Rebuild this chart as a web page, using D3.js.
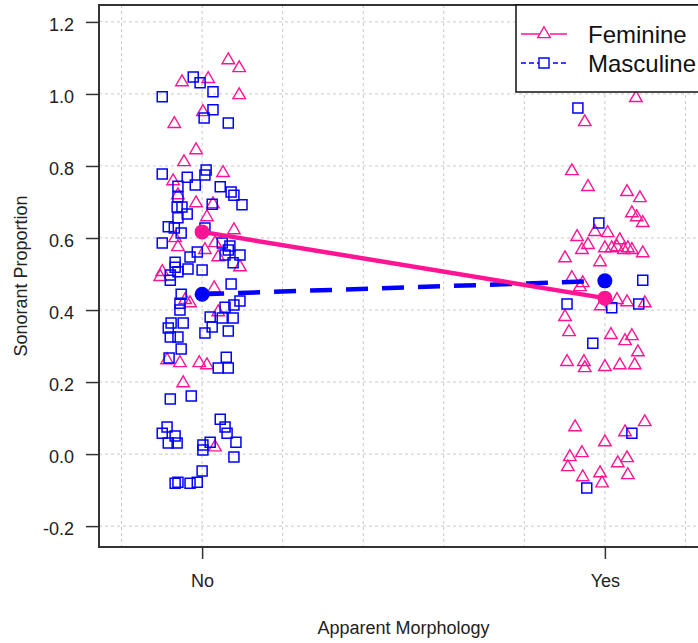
<!DOCTYPE html>
<html>
<head>
<meta charset="utf-8">
<script src="https://cdn.jsdelivr.net/npm/d3@7"></script>
<style>
  body { margin: 0; background: #fff; }
  text { font-family: "Liberation Sans", Arial, sans-serif; }
</style>
</head>
<body>
<script>
// jittered points: [x position, sonorant proportion]
var femNo = [
  [1.065, 1.094], [1.092, 1.072], [0.950, 1.033], [1.015, 1.042], [1.092, 0.997],
  [1.002, 0.950], [0.931, 0.917], [0.985, 0.844], [0.955, 0.811], [1.052, 0.781],
  [0.928, 0.758], [0.940, 0.719], [0.985, 0.697], [1.027, 0.694], [1.012, 0.658],
  [1.079, 0.622], [0.933, 0.600], [0.940, 0.575], [1.032, 0.586], [1.094, 0.519],
  [0.901, 0.506], [0.896, 0.492], [1.007, 0.567], [1.040, 0.547], [1.030, 0.461],
  [0.958, 0.428], [0.970, 0.419], [1.040, 0.394], [0.913, 0.261], [0.945, 0.253],
  [0.993, 0.253], [1.012, 0.247], [0.953, 0.197], [1.032, 0.019]
];
var femYes = [
  [2.077, 0.989], [1.950, 0.922], [1.918, 0.786], [1.958, 0.742], [2.055, 0.728],
  [2.087, 0.711], [2.067, 0.669], [2.079, 0.658], [2.094, 0.642], [1.931, 0.603],
  [1.975, 0.617], [2.007, 0.614], [1.958, 0.581], [1.943, 0.567], [2.000, 0.572],
  [2.017, 0.572], [2.037, 0.594], [2.057, 0.572], [2.067, 0.567], [2.094, 0.558],
  [2.030, 0.575], [2.047, 0.567], [1.901, 0.544], [1.988, 0.533], [1.918, 0.489],
  [1.945, 0.475], [1.938, 0.464], [1.990, 0.411], [2.030, 0.428], [2.055, 0.422],
  [2.099, 0.419], [1.901, 0.381], [1.911, 0.339], [2.015, 0.331], [2.050, 0.314],
  [2.067, 0.328], [2.082, 0.283], [1.906, 0.256], [1.948, 0.256], [1.950, 0.239],
  [2.000, 0.242], [2.037, 0.247], [2.074, 0.247], [1.926, 0.075], [2.099, 0.089],
  [2.050, 0.061], [2.000, 0.033], [1.913, -0.008], [1.943, 0.003], [1.908, -0.036],
  [2.032, -0.025], [2.055, -0.011], [2.057, -0.058], [1.945, -0.064], [1.988, -0.053],
  [1.993, -0.081]
];
var mascNo = [
  [0.978, 1.047], [0.995, 1.031], [1.027, 1.006], [0.901, 0.992], [1.027, 0.956],
  [1.005, 0.933], [1.065, 0.919], [1.010, 0.789], [1.007, 0.775], [0.901, 0.778],
  [0.963, 0.769], [0.983, 0.747], [0.940, 0.744], [1.045, 0.742], [1.072, 0.728],
  [1.079, 0.719], [1.099, 0.692], [0.940, 0.714], [0.938, 0.686], [0.950, 0.686],
  [1.025, 0.694], [0.963, 0.667], [0.940, 0.656], [0.916, 0.631], [0.931, 0.628],
  [0.948, 0.614], [1.007, 0.628], [0.901, 0.586], [1.050, 0.586], [1.069, 0.578],
  [1.065, 0.567], [1.094, 0.553], [1.057, 0.553], [0.988, 0.561], [0.970, 0.547],
  [0.933, 0.533], [0.933, 0.519], [0.965, 0.514], [1.000, 0.511], [1.077, 0.531],
  [0.940, 0.506], [0.921, 0.497], [0.921, 0.483], [1.072, 0.472], [0.948, 0.444],
  [0.945, 0.419], [0.945, 0.400], [1.057, 0.408], [1.079, 0.414], [1.094, 0.425],
  [1.020, 0.381], [1.050, 0.378], [1.077, 0.378], [0.923, 0.364], [0.953, 0.364],
  [0.916, 0.350], [1.025, 0.353], [1.065, 0.342], [1.007, 0.336], [0.921, 0.325],
  [0.940, 0.325], [0.948, 0.292], [0.918, 0.267], [1.060, 0.269], [1.040, 0.239],
  [1.065, 0.239], [0.921, 0.153], [0.973, 0.161], [1.045, 0.097], [0.913, 0.075],
  [0.901, 0.058], [1.057, 0.075], [1.062, 0.058], [0.933, 0.050], [0.916, 0.031],
  [0.938, 0.031], [1.084, 0.033], [1.002, 0.025], [1.002, 0.011], [1.020, 0.033],
  [1.079, -0.008], [1.000, -0.047], [0.933, -0.081], [0.940, -0.078], [0.970, -0.081],
  [0.988, -0.078]
];
var mascYes = [
  [1.933, 0.961], [1.985, 0.642], [2.094, 0.483], [1.906, 0.417], [2.017, 0.406],
  [2.084, 0.417], [1.970, 0.308], [2.067, 0.058], [1.955, -0.094]
];

// group means at each level
var levels = [1, 2];
var levelLabels = ["No", "Yes"];
var femMeans = [0.617, 0.433];
var mascMeans = [0.444, 0.481];

var yTicks = [-0.2, 0, 0.2, 0.4, 0.6, 0.8, 1.0, 1.2];
var xGrid = [0.8, 1.0, 1.2, 1.4, 1.6, 1.8, 2.0, 2.2];
var seriesNames = ["Feminine", "Masculine"];

var pink = "#FF1493", blue = "#0000FF";

var W = 698, H = 643;
var pLeft = 99, pRight = 708, pTop = 5, pBottom = 547;

var svg = d3.select("body").append("svg")
  .attr("width", W)
  .attr("height", H);

var x = d3.scaleLinear().domain([0.744, 2.256]).range([pLeft, pRight]);
var y = d3.scaleLinear().domain([-0.258, 1.247]).range([pBottom, pTop]);

// grid
svg.append("g").selectAll("line")
  .data(yTicks)
  .enter().append("line")
    .attr("x1", pLeft).attr("x2", pRight)
    .attr("y1", function(d) { return y(d) })
    .attr("y2", function(d) { return y(d) })
    .attr("stroke", "#c8c8c8")
    .attr("stroke-dasharray", "3,3");
svg.append("g").selectAll("line")
  .data(xGrid)
  .enter().append("line")
    .attr("y1", pTop).attr("y2", pBottom)
    .attr("x1", function(d) { return x(d) })
    .attr("x2", function(d) { return x(d) })
    .attr("stroke", "#c8c8c8")
    .attr("stroke-dasharray", "3,3");

// axes
var yAxis = svg.append("g")
  .attr("transform", "translate(" + pLeft + ",0)")
  .call(d3.axisLeft(y).tickValues(yTicks).tickSize(13).tickPadding(12)
    .tickFormat(function(d) { return d.toFixed(1) }));
var xAxis = svg.append("g")
  .attr("transform", "translate(0," + pBottom + ")")
  .call(d3.axisBottom(x).tickValues(levels).tickSize(12).tickPadding(15)
    .tickFormat(function(d, i) { return levelLabels[i] }));
[yAxis, xAxis].forEach(function(a) {
  a.select(".domain").remove();
  a.selectAll("line").attr("stroke", "#333").attr("stroke-width", 1.5);
  a.selectAll("text").attr("fill", "#222").style("font-size", "18px");
});
yAxis.selectAll("text").attr("dy", "0.45em");

// points
var tri = d3.symbol().type(d3.symbolTriangle).size(68);
var sq = d3.symbol().type(d3.symbolSquare).size(100);

svg.append("g").selectAll("path")
  .data(femNo.concat(femYes))
  .enter().append("path")
    .attr("d", tri)
    .attr("transform", function(d) { return "translate(" + x(d[0]) + "," + y(d[1]) + ")" })
    .attr("fill", "none")
    .attr("stroke", pink)
    .attr("stroke-width", 1.4);

svg.append("g").selectAll("path")
  .data(mascNo.concat(mascYes))
  .enter().append("path")
    .attr("d", sq)
    .attr("transform", function(d) { return "translate(" + x(d[0]) + "," + y(d[1]) + ")" })
    .attr("fill", "none")
    .attr("stroke", blue)
    .attr("stroke-width", 1.5);

// mean lines
var meanLine = d3.line()
  .x(function(d, i) { return x(levels[i]) })
  .y(function(d) { return y(d) });

svg.append("path")
  .attr("d", meanLine(mascMeans))
  .attr("fill", "none")
  .attr("stroke", blue)
  .attr("stroke-width", 4.5)
  .attr("stroke-dasharray", "22,14");
svg.append("path")
  .attr("d", meanLine(femMeans))
  .attr("fill", "none")
  .attr("stroke", pink)
  .attr("stroke-width", 4.5);

[[mascMeans, blue], [femMeans, pink]].forEach(function(m) {
  svg.append("g").selectAll("circle")
    .data(m[0])
    .enter().append("circle")
      .attr("cx", function(d, i) { return x(levels[i]) })
      .attr("cy", function(d) { return y(d) })
      .attr("r", 7.5)
      .attr("fill", m[1]);
});

// plot box
svg.append("rect")
  .attr("x", pLeft).attr("y", pTop)
  .attr("width", pRight - pLeft).attr("height", pBottom - pTop)
  .attr("fill", "none")
  .attr("stroke", "#333")
  .attr("stroke-width", 2);

// legend
var leg = svg.append("g");
leg.append("rect")
  .attr("x", 516).attr("y", pTop)
  .attr("width", 220).attr("height", 87)
  .attr("fill", "#fff")
  .attr("stroke", "#111")
  .attr("stroke-width", 1.5);

var legRows = leg.selectAll("g.row")
  .data(seriesNames)
  .enter().append("g")
    .attr("class", "row")
    .attr("transform", function(d, i) { return "translate(0," + (34 + i * 29) + ")" });
legRows.append("line")
  .attr("x1", 521).attr("x2", 567)
  .attr("stroke", function(d, i) { return i == 0 ? pink : blue })
  .attr("stroke-width", 1.4)
  .attr("stroke-dasharray", function(d, i) { return i == 0 ? null : "5,3" });
legRows.append("rect")
  .attr("x", 539).attr("y", -6).attr("width", 11).attr("height", 12)
  .attr("fill", "#fff");
legRows.append("path")
  .attr("d", function(d, i) { return i == 0 ? tri() : sq() })
  .attr("transform", "translate(544,0)")
  .attr("fill", "none")
  .attr("stroke", function(d, i) { return i == 0 ? pink : blue })
  .attr("stroke-width", 1.4);
legRows.append("text")
  .attr("x", 588).attr("y", 9)
  .text(function(d) { return d })
  .style("font-size", "24px")
  .attr("fill", "#111");

// axis titles
svg.append("text")
  .attr("x", (pLeft + pRight) / 2).attr("y", 634)
  .attr("text-anchor", "middle")
  .style("font-size", "18px")
  .attr("fill", "#222")
  .text("Apparent Morphology");
svg.append("text")
  .attr("transform", "translate(27," + ((pTop + pBottom) / 2) + ") rotate(-90)")
  .attr("text-anchor", "middle")
  .style("font-size", "18px")
  .attr("fill", "#222")
  .text("Sonorant Proportion");
</script>
</body>
</html>
